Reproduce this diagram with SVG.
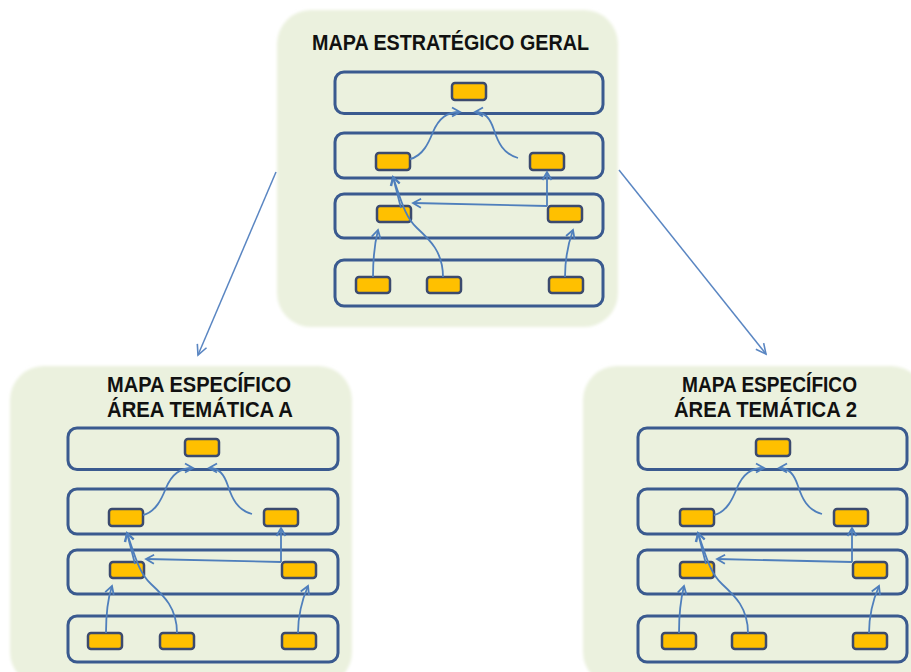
<svg xmlns="http://www.w3.org/2000/svg" width="911" height="672" viewBox="0 0 911 672">
  <defs>
    <style>
      .panel { fill: #ebf1de; }
      .row { fill: none; stroke: #3a5a8f; stroke-width: 3; }
      .box { fill: #ffc000; stroke: #3b4a6e; stroke-width: 2.5; }
      .title { font-family: "Liberation Sans", Arial, sans-serif; font-weight: bold; font-size: 22.5px; fill: #111111; }
      .arr { fill: none; stroke: #4f7fbc; stroke-width: 1.8; marker-end: url(#ah); }
      .link { fill: none; stroke: #5a86c2; stroke-width: 1.5; marker-end: url(#ah2); }
    </style>
    <filter id="soft" x="-5%" y="-5%" width="110%" height="110%">
      <feGaussianBlur stdDeviation="1.5"/>
    </filter>
    <marker id="ah" viewBox="-10 -6 12 12" refX="0" refY="0" markerWidth="12" markerHeight="12" orient="auto" markerUnits="userSpaceOnUse">
      <path d="M-8,-4.5 L0,0 L-8,4.5" fill="none" stroke="#4f7fbc" stroke-width="1.8"/>
    </marker>
    <marker id="ah2" viewBox="-12 -7 14 14" refX="0" refY="0" markerWidth="14" markerHeight="14" orient="auto" markerUnits="userSpaceOnUse">
      <path d="M-10,-5 L0,0 L-10,5" fill="none" stroke="#5a86c2" stroke-width="1.6"/>
    </marker>
  </defs>

  <!-- Top panel -->
  <g id="panel-geral">
    <rect class="panel" x="277" y="10" width="341" height="317" rx="34" filter="url(#soft)"/>
    <text class="title" x="312" y="50" textLength="277" lengthAdjust="spacingAndGlyphs">MAPA ESTRATÉGICO GERAL</text>
    <g transform="translate(335,72)">
      <g id="geral-rows">
        <rect class="row" x="0" y="0" width="268" height="41.5" rx="9"/>
        <rect class="row" x="0" y="61" width="268" height="45" rx="9"/>
        <rect class="row" x="0" y="122" width="268" height="44" rx="9"/>
        <rect class="row" x="0" y="188" width="268" height="46" rx="9"/>
      </g>
      <g id="geral-b1"><rect class="box" x="117" y="11" width="34" height="17" rx="3"/></g>
      <g id="geral-b2"><rect class="box" x="41" y="81" width="34" height="17" rx="3"/></g>
      <g id="geral-b3"><rect class="box" x="195" y="81" width="34" height="17" rx="3"/></g>
      <g id="geral-b4"><rect class="box" x="42" y="134" width="34" height="16" rx="3"/></g>
      <g id="geral-b5"><rect class="box" x="213" y="134" width="34" height="16" rx="3"/></g>
      <g id="geral-b6"><rect class="box" x="21" y="205" width="34" height="16" rx="3"/></g>
      <g id="geral-b7"><rect class="box" x="92" y="205" width="34" height="16" rx="3"/></g>
      <g id="geral-b8"><rect class="box" x="214" y="205" width="34" height="16" rx="3"/></g>
    </g>
  </g>

  <!-- Left panel -->
  <g id="panel-a">
    <rect class="panel" x="10" y="366" width="342" height="320" rx="34" filter="url(#soft)"/>
    <text class="title" x="107" y="392" textLength="184" lengthAdjust="spacingAndGlyphs">MAPA ESPECÍFICO</text>
    <text class="title" x="107" y="417" textLength="186" lengthAdjust="spacingAndGlyphs">ÁREA TEMÁTICA A</text>
    <g transform="translate(68,428)">
      <g id="a-rows">
        <rect class="row" x="0" y="0" width="270" height="41.5" rx="9"/>
        <rect class="row" x="0" y="61" width="270" height="45" rx="9"/>
        <rect class="row" x="0" y="122" width="270" height="44" rx="9"/>
        <rect class="row" x="0" y="188" width="270" height="46" rx="9"/>
      </g>
      <g id="a-b1"><rect class="box" x="117" y="11" width="34" height="17" rx="3"/></g>
      <g id="a-b2"><rect class="box" x="41" y="81" width="34" height="17" rx="3"/></g>
      <g id="a-b3"><rect class="box" x="196" y="81" width="34" height="17" rx="3"/></g>
      <g id="a-b4"><rect class="box" x="42" y="134" width="34" height="16" rx="3"/></g>
      <g id="a-b5"><rect class="box" x="214" y="134" width="34" height="16" rx="3"/></g>
      <g id="a-b6"><rect class="box" x="20" y="205" width="34" height="16" rx="3"/></g>
      <g id="a-b7"><rect class="box" x="92" y="205" width="34" height="16" rx="3"/></g>
      <g id="a-b8"><rect class="box" x="214" y="205" width="34" height="16" rx="3"/></g>
    </g>
  </g>

  <!-- Right panel -->
  <g id="panel-2">
    <rect class="panel" x="583" y="366" width="342" height="320" rx="34" filter="url(#soft)"/>
    <text class="title" x="682" y="392" textLength="175" lengthAdjust="spacingAndGlyphs">MAPA ESPECÍFICO</text>
    <text class="title" x="674" y="417" textLength="183" lengthAdjust="spacingAndGlyphs">ÁREA TEMÁTICA 2</text>
    <g transform="translate(638,428)">
      <g id="r-rows">
        <rect class="row" x="0" y="0" width="269" height="41.5" rx="9"/>
        <rect class="row" x="0" y="61" width="269" height="45" rx="9"/>
        <rect class="row" x="0" y="122" width="269" height="44" rx="9"/>
        <rect class="row" x="0" y="188" width="269" height="46" rx="9"/>
      </g>
      <g id="r-b1"><rect class="box" x="118" y="11" width="34" height="17" rx="3"/></g>
      <g id="r-b2"><rect class="box" x="42" y="81" width="34" height="17" rx="3"/></g>
      <g id="r-b3"><rect class="box" x="196" y="81" width="34" height="17" rx="3"/></g>
      <g id="r-b4"><rect class="box" x="42" y="134" width="34" height="16" rx="3"/></g>
      <g id="r-b5"><rect class="box" x="215" y="134" width="34" height="16" rx="3"/></g>
      <g id="r-b6"><rect class="box" x="24" y="205" width="34" height="16" rx="3"/></g>
      <g id="r-b7"><rect class="box" x="94" y="205" width="34" height="16" rx="3"/></g>
      <g id="r-b8"><rect class="box" x="215" y="205" width="34" height="16" rx="3"/></g>
    </g>
  </g>

  <!-- Connectors -->
  <g id="connectors">
    <path class="link" d="M276,172 L198,355"/>
    <path class="link" d="M619,170 L766,354"/>

    <g transform="translate(335,72)">
      <path class="arr" d="M75,87 C 88,84 94,70 98,60 C 104,46 112,40 125,40"/>
      <path class="arr" d="M183,86 C 168,82 163,70 159,58 C 155,46 150,40 140,40"/>
      <path class="arr" d="M108,205 C 108,180 95,168 82,156 C 70,145 66,128 58,105"/>
      <path class="arr" d="M66,136 L58,105"/>
      <path class="arr" d="M212,134 L78,131"/>
      <path class="arr" d="M212,134 L212,100"/>
      <path class="arr" d="M38,205 C 38,185 40,170 43,158"/>
      <path class="arr" d="M230,205 C 230,185 233,172 238,158"/>
    </g>
    <g transform="translate(68,428)">
      <path class="arr" d="M75,87 C 88,84 94,70 98,60 C 104,46 112,40 125,40"/>
      <path class="arr" d="M184,86 C 169,82 164,70 160,58 C 156,46 151,40 141,40"/>
      <path class="arr" d="M109,205 C 109,180 96,168 83,156 C 71,145 67,128 59,105"/>
      <path class="arr" d="M67,136 L59,105"/>
      <path class="arr" d="M213,134 L78,131"/>
      <path class="arr" d="M213,134 L213,100"/>
      <path class="arr" d="M38,205 C 38,185 40,170 44,158"/>
      <path class="arr" d="M230,205 C 230,185 234,172 240,158"/>
    </g>
    <g transform="translate(638,428)">
      <path class="arr" d="M76,87 C 89,84 95,70 99,60 C 105,46 113,40 126,40"/>
      <path class="arr" d="M184,86 C 169,82 164,70 160,58 C 156,46 151,40 141,40"/>
      <path class="arr" d="M110,205 C 110,180 97,168 84,156 C 72,145 68,128 60,105"/>
      <path class="arr" d="M68,136 L60,105"/>
      <path class="arr" d="M214,134 L79,131"/>
      <path class="arr" d="M214,134 L214,100"/>
      <path class="arr" d="M41,205 C 41,185 43,170 46,158"/>
      <path class="arr" d="M231,205 C 231,185 235,172 241,158"/>
    </g>
  </g>
</svg>
